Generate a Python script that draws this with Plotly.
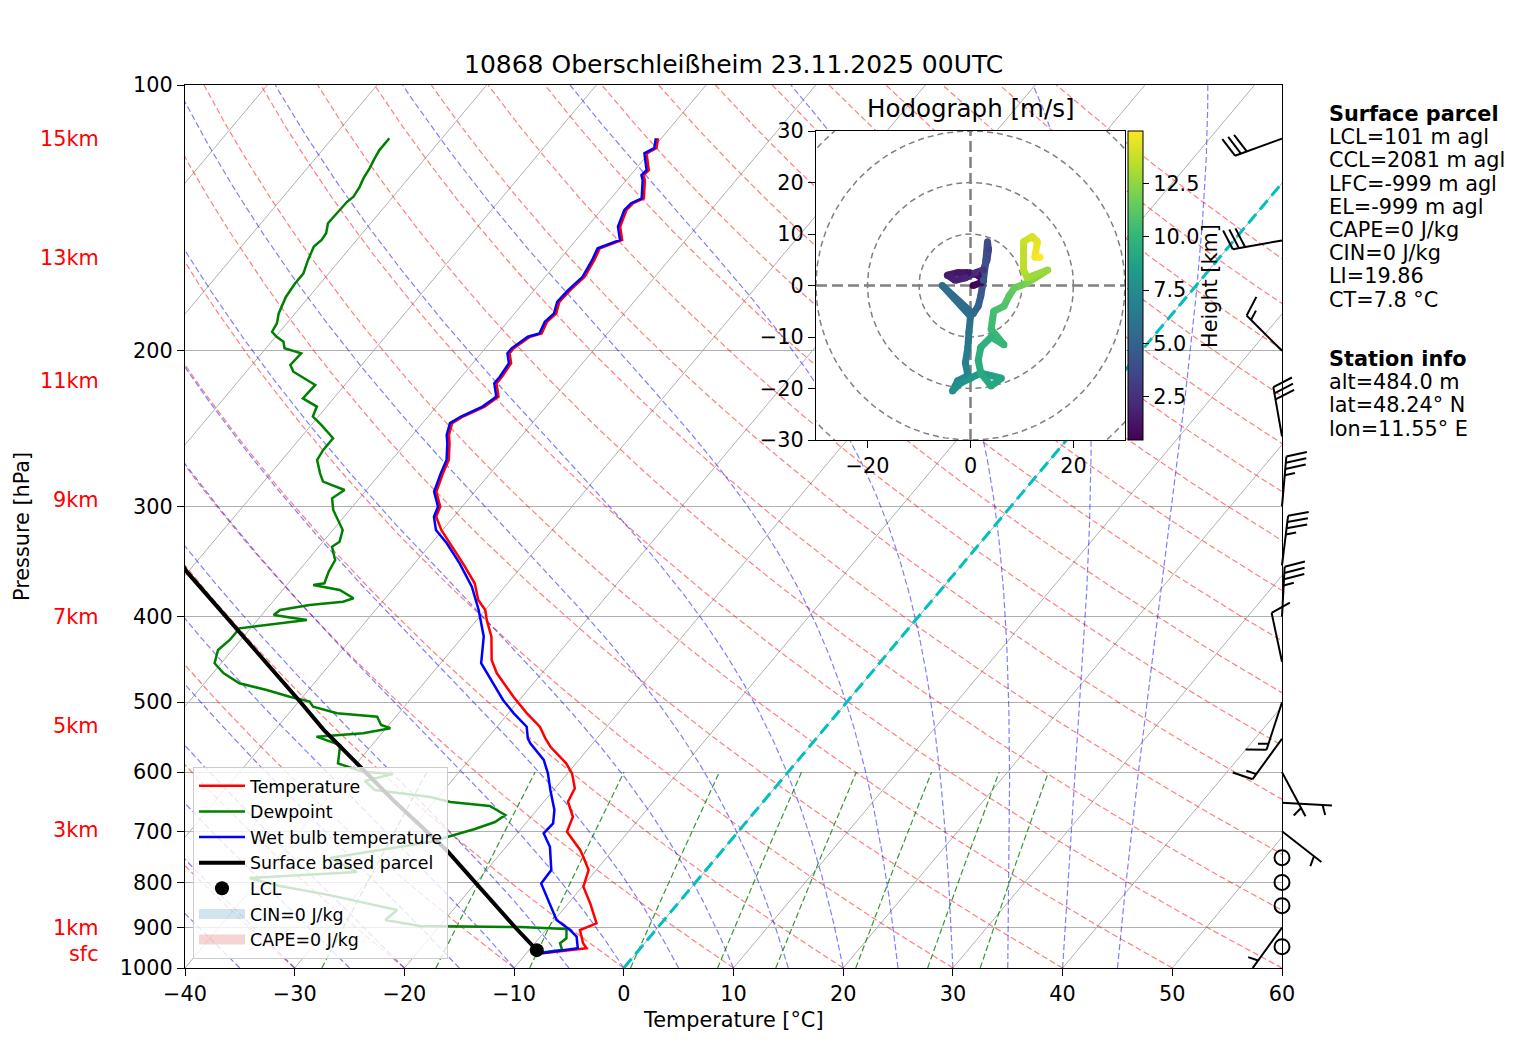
import numpy as np
import plotly.graph_objects as go
from plotly.colors import sample_colorscale

W, H = 1517, 1054          # browser window
OFF = 8                    # page margin around the plot div
FW, FH = W - OFF, H - OFF  # figure size
# skew-T box in window pixels: left, right, top, bottom
BOX_L, BOX_R, BOX_T, BOX_B = 185, 1282, 85, 968
SKEW = 67.5  # degC per decade of pressure

# ---------------- sounding data (pressure hPa, degC) ----------------
temp_p = [962.4, 949.9, 937.6, 905.7, 890.0, 844.9, 809.0, 774.5, 748.1, 735.1,
          700.9, 674.1, 648.2, 625.9, 601.9, 586.4, 561.6, 549.5, 533.0, 514.7,
          492.9, 463.7, 447.8, 421.4, 403.5, 393.1, 383.0, 366.7, 348.1, 330.4,
          319.2, 308.3, 300.3, 288.8, 275.3, 265.8, 254.5, 249.0, 241.5, 237.4,
          231.3, 225.4, 217.7, 214.0, 206.6, 201.3, 198.7, 192.8, 191.1, 185.4,
          181.4, 176.0, 170.7, 164.9, 157.9, 153.1, 149.8, 144.7, 138.5, 136.1,
          134.4, 128.2, 126.5, 124.9, 119.5, 117.9, 114.9]
temp_t = [-8.5, -4.9, -5.6, -6.9, -5.9, -8.0, -9.9, -10.7, -12.2, -13.0,
          -15.6, -16.2, -17.8, -18.2, -19.6, -20.9, -23.6, -24.7, -26.1, -28.3,
          -30.8, -34.1, -35.6, -37.4, -39.1, -40.0, -41.4, -43.0, -45.6, -48.3,
          -50.1, -51.6, -52.0, -53.5, -54.3, -54.8, -56.0, -56.7, -57.3, -56.8,
          -55.6, -55.1, -56.3, -56.3, -56.5, -57.4, -57.4, -56.8, -56.0, -56.4,
          -56.2, -56.8, -56.7, -56.4, -56.8, -57.2, -55.8, -57.0, -57.7, -57.6,
          -57.0, -58.3, -58.8, -58.7, -60.2, -59.7, -60.3]

wetbulb_p = [962.4, 949.9, 921.5, 905.7, 882.4, 844.9, 802.0, 774.5, 729.0, 703.9,
             685.8, 662.4, 628.7, 601.9, 581.3, 556.6, 549.5, 533.0, 514.7, 497.1,
             467.8, 451.7, 421.4, 403.5, 393.1, 370.0, 348.1, 330.4, 319.2, 308.3,
             300.3, 288.8, 275.3, 265.8, 254.5, 249.0, 241.5, 237.4, 231.3, 225.4,
             217.7, 214.0, 206.6, 201.3, 198.7, 192.8, 191.1, 185.4, 181.4, 176.0,
             170.7, 164.9, 157.9, 153.1, 149.8, 144.7, 138.5, 136.1, 134.4, 128.2,
             126.5, 124.9, 119.5, 117.9, 114.9]
wetbulb_t = [-8.7, -5.7, -6.7, -7.8, -9.8, -11.7, -14.0, -14.1, -16.0, -17.6,
             -17.5, -18.4, -20.3, -21.8, -23.2, -25.7, -26.3, -27.3, -29.5, -31.5,
             -34.5, -36.3, -38.1, -39.7, -40.6, -43.0, -45.9, -48.6, -50.6, -51.8,
             -52.2, -53.7, -54.5, -55.0, -56.2, -56.9, -57.5, -57.0, -55.8, -55.3,
             -56.5, -56.5, -56.7, -57.6, -57.6, -57.0, -56.2, -56.6, -56.4, -57.0,
             -56.9, -56.6, -57.0, -57.4, -56.0, -57.2, -57.9, -57.8, -57.2, -58.5,
             -59.0, -58.9, -60.4, -59.9, -60.5]

dew_p = [962.4, 954.1, 937.6, 925.5, 903.4, 898.8, 896.4, 882.4, 859.8, 826.9,
         807.6, 790.8, 778.5, 750.6, 720.0, 708.7, 695.9, 683.4, 671.0, 655.5,
         648.6, 640.2, 628.7, 614.1, 603.0, 599.4, 586.4, 559.1, 547.0, 542.2,
         535.2, 530.6, 519.2, 514.7, 505.9, 499.3, 492.9, 484.3, 476.0, 463.7,
         451.7, 436.4, 425.1, 412.4, 407.1, 403.5, 398.3, 393.1, 388.0, 384.7,
         381.3, 373.1, 368.3, 366.7, 355.8, 345.1, 333.4, 329.0, 319.2, 308.3,
         302.9, 293.8, 287.5, 281.3, 275.3, 265.8, 259.0, 251.2, 242.6, 237.4,
         231.3, 226.4, 218.6, 211.2, 207.5, 201.3, 198.7, 195.3, 192.8, 190.3,
         186.2, 181.4, 176.7, 173.8, 167.8, 163.5, 157.9, 152.4, 149.8, 147.2,
         143.4, 138.5, 135.6, 133.8, 130.4, 127.5, 124.3, 121.1, 118.5, 114.9]
dew_t = [-9.2, -7.0, -7.7, -7.5, -8.2, -12.6, -21.8, -25.4, -25.1, -32.4,
         -37.6, -41.0, -31.7, -35.2, -27.3, -25.8, -24.2, -22.9, -22.5, -24.6,
         -28.5, -30.7, -36.3, -37.9, -35.9, -38.8, -41.7, -42.9, -45.7, -41.7,
         -39.6, -40.7, -41.7, -45.6, -48.3, -49.0, -51.2, -53.8, -56.8, -59.0,
         -60.6, -61.3, -61.0, -61.0, -57.7, -55.5, -58.9, -58.7, -56.4, -53.6,
         -52.9, -54.8, -57.6, -56.7, -57.2, -57.5, -58.8, -58.5, -59.1, -60.7,
         -61.5, -62.5, -62.0, -64.6, -65.5, -66.8, -67.0, -67.0, -69.1, -70.5,
         -70.9, -72.8, -72.7, -75.7, -76.5, -76.4, -78.3, -78.9, -79.9, -80.7,
         -80.9, -81.5, -81.9, -82.1, -82.3, -82.3, -82.9, -83.4, -83.2, -83.3,
         -83.9, -83.8, -83.8, -83.6, -83.8, -84.1, -84.3, -84.6, -84.8, -84.8]

parcel_p = [962.4, 954.5, 901.0, 735.0, 645.0, 537.0, 499.0, 356.0, 340.0]
parcel_t = [-8.5, -9.3, -12.9, -25.2, -33.9, -45.6, -49.9, -70.1, -72.5]
lcl_p = [954.5]
lcl_t = [-9.3]

height_labels = ["15km", "13km", "11km", "9km", "7km", "5km", "3km", "1km", "sfc"]
height_p = [115.1, 157.0, 216.3, 295.1, 400.4, 532.0, 697.7, 901.1, 964.1]

# wind barbs: pressure, direction (deg), speed (kt)
wind_p = [115, 150, 200, 250, 300, 350, 400, 450, 500, 550, 600, 650, 700,
          750, 800, 850, 900, 946]
wind_dir = [250, 260, 315, 350, 5, 7, 3, 348, 198, 216, 152, 93, 128,
            0, 0, 0, 216, 0]
wind_kt = [30, 30, 15, 30, 35, 35, 35, 10, 15, 15, 5, 5, 5,
           0, 0, 0, 5, 0]

# hodograph (height km, u, v m/s)
hodo_h = [0.48, 0.6, 0.8, 1.0, 1.2, 1.4, 1.6, 1.8, 2.0, 2.3, 2.7, 3.0, 3.4, 3.8,
          4.1, 4.4, 4.7, 5.0, 5.3, 5.5, 5.7, 6.0, 6.4, 6.8, 7.2, 7.5, 7.7, 7.9,
          8.1, 8.4, 8.7, 8.9, 9.1, 9.3, 9.5, 9.7, 9.9, 10.1, 10.3, 10.6, 10.9,
          11.2, 11.5, 12.0, 12.6, 13.0, 13.4, 13.8, 14.1, 14.4, 14.7, 14.95]
hodo_u = [0.5, 2.0, 2.5, 1.5, -0.5, -2.5, -4.5, -3.0, -1.0, 1.0, 2.5, 3.2, 3.5, 3.3,
          3.0, 2.5, 2.0, 1.5, 0.5, -5.5, 0.0, -0.3, -0.5, -1.0, -0.5, -2.5, -3.5, -2.0,
          0.0, 2.0, 4.0, 6.0, 4.0, 2.0, 1.5, 2.0, 4.0, 6.5, 4.0, 4.5, 6.5,
          7.5, 8.5, 11.0, 15.0, 11.0, 10.3, 10.3, 12.0, 13.0, 12.5, 13.5]
hodo_v = [0.0, 0.5, 1.0, 2.0, 2.5, 2.5, 2.0, 1.0, 1.5, 2.5, 3.0, 5.0, 7.0, 8.5,
          5.0, 1.0, -2.0, -4.0, -5.5, 0.0, -6.0, -9.0, -12.0, -15.0, -17.5, -18.5, -20.5, -19.0,
          -18.0, -17.0, -17.5, -18.0, -19.5, -17.0, -14.5, -12.0, -10.0, -11.5, -8.5, -5.0, -4.0,
          -2.0, -0.5, 0.5, 3.0, 1.5, 3.0, 8.5, 9.5, 8.5, 5.5, 5.5]

parcel_text = ["LCL=101 m agl", "CCL=2081 m agl", "LFC=-999 m agl", "EL=-999 m agl",
               "CAPE=0 J/kg", "CIN=0 J/kg", "LI=19.86", "CT=7.8 °C"]
station_text = ["alt=484.0 m", "lat=48.24° N", "lon=11.55° E"]
title = "10868 Oberschleißheim 23.11.2025 00UTC"

FONT = "DejaVu Sans"
FS = 20.8


def skew(t, p):
    return np.asarray(t, float) + SKEW * np.log10(1000.0 / np.asarray(p, float))


def joined(lines):
    xs, ys = [], []
    for x, y in lines:
        xs += [float(v) for v in x] + [None]
        ys += [float(v) for v in y] + [None]
    return xs, ys


def px(xs):  # window pixel -> paper x
    return (xs - OFF) / FW


def py(ys):  # window pixel (from top) -> paper y
    return (H - ys) / FH


fig = go.Figure()

# ---------------- background lines ----------------
iso = [(skew([t, t], [1000, 100]), [1000, 100]) for t in range(-120, 61, 10)]
x, y = joined(iso)
fig.add_trace(go.Scatter(x=x, y=y, mode="lines", line=dict(color="#b0b0b0", width=1),
                         showlegend=False, hoverinfo="skip"))

pp = np.linspace(1000, 100, 80)
dry = []
for t0 in range(-40, 201, 10):
    t = (t0 + 273.15) * (pp / 1000.0) ** 0.2857 - 273.15
    dry.append((skew(t, pp), pp))
x, y = joined(dry)
fig.add_trace(go.Scatter(x=x, y=y, mode="lines",
                         line=dict(color="rgba(255,0,0,0.5)", width=1.2, dash="6px,3px"),
                         showlegend=False, hoverinfo="skip"))


def dtdp(T, p):
    es = 6.112 * np.exp(17.67 * (T - 273.15) / (T - 29.65))
    rs = 0.622 * es / (p - es)
    num = 287.04 * T + 2.501e6 * rs
    den = 1005.7 + (2.501e6 ** 2 * rs * 0.622) / (287.04 * T ** 2)
    return num / den / p


t0m = np.arange(-50., 45.1, 5.)
pm = np.arange(1000, 99, -2.0)
T = t0m + 273.15
prof = [T.copy()]
for i in range(1, len(pm)):
    dp = pm[i] - pm[i - 1]
    k1 = dtdp(T, pm[i - 1])
    k2 = dtdp(T + 0.5 * dp * k1, pm[i - 1] + 0.5 * dp)
    T = T + dp * k2
    prof.append(T.copy())
prof = np.array(prof) - 273.15
moist = [(skew(prof[:, j], pm), pm) for j in range(len(t0m))]
x, y = joined(moist)
fig.add_trace(go.Scatter(x=x, y=y, mode="lines",
                         line=dict(color="rgba(0,0,255,0.5)", width=1.2, dash="6px,3px"),
                         showlegend=False, hoverinfo="skip"))

pw = np.linspace(1000, 600, 30)
mix = []
for w in [0.0004, 0.001, 0.002, 0.004, 0.007, 0.01, 0.016, 0.024, 0.032]:
    e = w * pw / (0.622 + w)
    a = np.log(e / 6.112)
    td = 243.5 * a / (17.67 - a)
    mix.append((skew(td, pw), pw))
x, y = joined(mix)
fig.add_trace(go.Scatter(x=x, y=y, mode="lines",
                         line=dict(color="rgba(0,128,0,0.8)", width=1.2, dash="6px,3px"),
                         showlegend=False, hoverinfo="skip"))

fig.add_trace(go.Scatter(x=skew([0, 0], [1000, 100]), y=[1000, 100], mode="lines",
                         line=dict(color="#00bfbf", width=3, dash="12px,6px"),
                         showlegend=False, hoverinfo="skip"))

# ---------------- profiles ----------------
fig.add_trace(go.Scatter(x=skew(temp_t, temp_p), y=temp_p, mode="lines", name="Temperature",
                         line=dict(color="red", width=2.5)))
fig.add_trace(go.Scatter(x=skew(dew_t, dew_p), y=dew_p, mode="lines", name="Dewpoint",
                         line=dict(color="green", width=2.5)))
fig.add_trace(go.Scatter(x=skew(wetbulb_t, wetbulb_p), y=wetbulb_p, mode="lines",
                         name="Wet bulb temperature", line=dict(color="blue", width=2.5)))
fig.add_trace(go.Scatter(x=skew(parcel_t, parcel_p), y=parcel_p, mode="lines",
                         name="Surface based parcel", line=dict(color="black", width=4)))
fig.add_trace(go.Scatter(x=skew(lcl_t, lcl_p), y=lcl_p, mode="markers", name="LCL",
                         marker=dict(color="black", size=14)))
fig.add_trace(go.Scatter(x=[None], y=[None], mode="lines", name="CIN=0 J/kg",
                         line=dict(color="rgba(31,119,180,0.2)", width=13)))
fig.add_trace(go.Scatter(x=[None], y=[None], mode="lines", name="CAPE=0 J/kg",
                         line=dict(color="rgba(214,39,40,0.2)", width=13)))

# ---------------- hodograph ----------------
fig.add_trace(go.Scatter(x=[-30, 30, 30, -30, -30], y=[-30, -30, 30, 30, -30], mode="lines",
                         fill="toself", fillcolor="white", line=dict(width=0),
                         xaxis="x2", yaxis="y2", showlegend=False, hoverinfo="skip"))
ang = np.linspace(0, 2 * np.pi, 200)
rings = [(r * np.cos(ang), r * np.sin(ang)) for r in (10, 20, 30, 40)]
x, y = joined(rings)
fig.add_trace(go.Scatter(x=x, y=y, mode="lines", line=dict(color="gray", width=1.5, dash="6px,4px"),
                         xaxis="x2", yaxis="y2", showlegend=False, hoverinfo="skip"))
x, y = joined([([-30, 30], [0, 0]), ([0, 0], [-30, 30])])
fig.add_trace(go.Scatter(x=x, y=y, mode="lines", line=dict(color="gray", width=2.5, dash="11px,5px"),
                         xaxis="x2", yaxis="y2", showlegend=False, hoverinfo="skip"))

hmin, hmax = 0.48, 14.95
for i in range(len(hodo_h) - 1):
    f = ((hodo_h[i] + hodo_h[i + 1]) / 2 - hmin) / (hmax - hmin)
    c = sample_colorscale("Viridis", [min(max(f, 0), 1)])[0]
    fig.add_trace(go.Scatter(x=hodo_u[i:i + 2], y=hodo_v[i:i + 2], mode="lines",
                             line=dict(color=c, width=7), xaxis="x2", yaxis="y2",
                             showlegend=False, hoverinfo="skip"))
fig.add_trace(go.Scatter(
    x=hodo_u, y=hodo_v, mode="markers", xaxis="x2", yaxis="y2", showlegend=False,
    hoverinfo="skip",
    marker=dict(size=7, color=hodo_h, colorscale="Viridis", cmin=hmin, cmax=hmax,
                showscale=True,
                colorbar=dict(x=px(1128), xanchor="left", xpad=0, y=py(285.5), yanchor="middle",
                              ypad=0, len=309, lenmode="pixels", thickness=15,
                              outlinewidth=1, outlinecolor="black",
                              tickvals=[2.5, 5, 7.5, 10, 12.5],
                              ticktext=["2.5", "5.0", "7.5", "10.0", "12.5"],
                              ticks="outside", ticklen=6, tickcolor="black",
                              tickfont=dict(size=FS, family=FONT, color="black")))))

# ---------------- wind barbs (window pixel axes, y up) ----------------
L = 50.0
barb_lines = []
calm_x, calm_y = [], []
for p, d, s in zip(wind_p, wind_dir, wind_kt):
    bx = BOX_R
    by = (H - BOX_B) + (BOX_B - BOX_T) * np.log10(1000.0 / p)
    if s < 2.5:
        calm_x.append(bx)
        calm_y.append(float(by))
        continue
    r = np.radians(d)
    dv = np.array([np.sin(r), np.cos(r)])
    nv = np.array([dv[1], -dv[0]])
    base = np.array([bx, by])
    tip = base + L * dv
    barb_lines.append(([base[0], tip[0]], [base[1], tip[1]]))
    s5 = 5 * round(s / 5)
    nfull, rest = divmod(s5 % 50, 10)
    a = L
    sp = 0.125 * L
    for _ in range(nfull):
        st = base + a * dv
        en = st + 0.4 * L * nv + 0.125 * L * dv
        barb_lines.append(([st[0], en[0]], [st[1], en[1]]))
        a -= sp
    if rest >= 5:
        if a == L:
            a -= 1.5 * sp
        st = base + a * dv
        en = st + 0.2 * L * nv + 0.0625 * L * dv
        barb_lines.append(([st[0], en[0]], [st[1], en[1]]))
x, y = joined(barb_lines)
fig.add_trace(go.Scatter(x=x, y=y, mode="lines", line=dict(color="black", width=2),
                         xaxis="x3", yaxis="y3", showlegend=False, hoverinfo="skip"))
fig.add_trace(go.Scatter(x=calm_x, y=calm_y, mode="markers",
                         marker=dict(symbol="circle-open", size=15, color="black", line=dict(width=2)),
                         xaxis="x3", yaxis="y3", showlegend=False, hoverinfo="skip"))

# ---------------- annotations ----------------
ann = []
ann.append(dict(text=title, x=px(733.5), y=py(65), font=dict(size=25)))
ann.append(dict(text="Hodograph [m/s]", x=px(970), y=py(108), font=dict(size=24.5)))
ann.append(dict(text="Temperature [°C]", x=px(733.5), y=py(1020), font=dict(size=FS)))
ann.append(dict(text="Pressure [hPa]", x=px(22), y=py(527), textangle=-90, font=dict(size=FS)))
ann.append(dict(text="Height [km]", x=px(1210), y=py(286), textangle=-90, font=dict(size=FS)))
for i, t in enumerate(["<b>Surface parcel</b>"] + parcel_text):
    ann.append(dict(text=t, x=px(1327), y=py(114 + 23.2 * i), xanchor="left", font=dict(size=FS)))
for i, t in enumerate(["<b>Station info</b>"] + station_text):
    ann.append(dict(text=t, x=px(1327), y=py(359 + 23.2 * i), xanchor="left", font=dict(size=FS)))
for a in ann:
    a.update(xref="paper", yref="paper", showarrow=False)
    a.setdefault("xanchor", "center")
    a["yanchor"] = "middle"
    a["font"].update(family=FONT, color="black")
shapes = []
for lab, p in zip(height_labels, height_p):
    ann.append(dict(text=lab, x=px(101), y=float(np.log10(p)), xref="paper", yref="y", xanchor="right",
                    yanchor="middle", showarrow=False, font=dict(size=FS, family=FONT, color="red")))
    shapes.append(dict(type="line", xref="paper", yref="y", x0=px(143), x1=px(BOX_L),
                       y0=float(np.log10(p)), y1=float(np.log10(p)), line=dict(color="red", width=1.2)))

ticks_t = list(range(-40, 61, 10))
ticks_p = [1000, 900, 800, 700, 600, 500, 400, 300, 200, 100]
axis_common = dict(showline=True, mirror=True, linecolor="black", linewidth=1.2, ticks="outside",
                   ticklen=7, tickcolor="black", zeroline=False,
                   tickfont=dict(size=FS, family=FONT, color="black"))

fig.update_layout(
    width=FW, height=FH, margin=dict(l=0, r=0, t=0, b=0, autoexpand=False),
    paper_bgcolor="white", plot_bgcolor="rgba(0,0,0,0)",
    font=dict(family=FONT, color="black"),
    xaxis=dict(domain=[px(BOX_L), px(BOX_R)], range=[-40, 60], anchor="y", showgrid=False,
               tickvals=ticks_t, ticktext=[str(t).replace("-", "−") for t in ticks_t], **axis_common),
    yaxis=dict(domain=[py(BOX_B), py(BOX_T)], type="log", range=[3, 2], anchor="x",
               showgrid=True, gridcolor="#b0b0b0", gridwidth=1,
               tickvals=ticks_p, ticktext=[str(p) for p in ticks_p], **axis_common),
    xaxis2=dict(domain=[px(816), px(1125)], range=[-30, 30], anchor="y2", showgrid=False,
                tickvals=[-20, 0, 20], ticktext=["−20", "0", "20"], **axis_common),
    yaxis2=dict(domain=[py(440), py(131)], range=[-30, 30], anchor="x2", showgrid=False,
                tickvals=list(range(-30, 31, 10)),
                ticktext=[str(v).replace("-", "−") for v in range(-30, 31, 10)], **axis_common),
    xaxis3=dict(domain=[0, 1], range=[OFF, W], anchor="y3", visible=False, fixedrange=True),
    yaxis3=dict(domain=[0, 1], range=[0, FH], anchor="x3", visible=False, fixedrange=True),
    legend=dict(x=px(193), y=py(959), xanchor="left", yanchor="bottom",
                bgcolor="rgba(255,255,255,0.8)", bordercolor="#cccccc", borderwidth=1,
                font=dict(size=17.4, family=FONT, color="black"), tracegroupgap=0,
                itemwidth=46),
    annotations=ann, shapes=shapes,
)

fig.write_html("out.html")
